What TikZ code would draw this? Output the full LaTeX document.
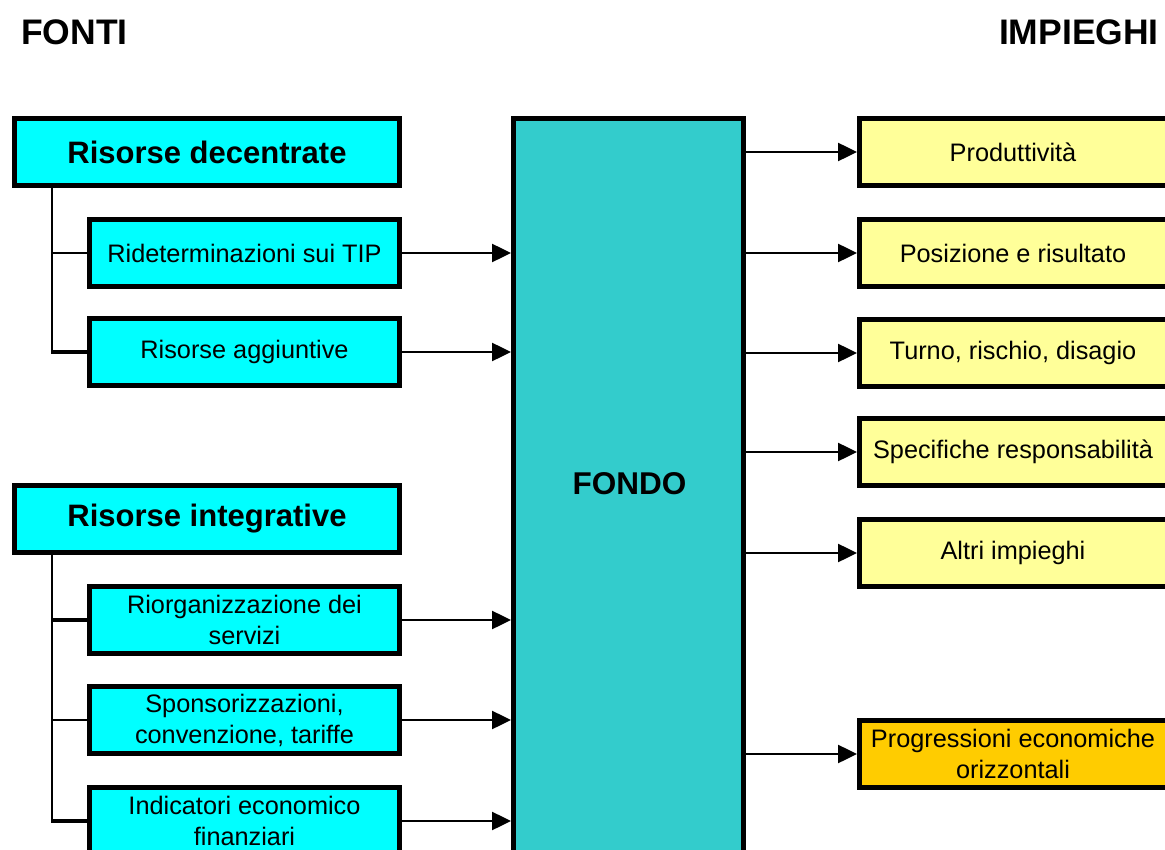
\documentclass[tikz,border=0pt]{standalone}
\usepackage{fontspec}
\setmainfont{Liberation Sans}
\usetikzlibrary{arrows.meta}
\definecolor{boxcyan}{HTML}{00FFFF}
\definecolor{fondocol}{HTML}{33CCCC}
\definecolor{boxyellow}{HTML}{FFFF99}
\definecolor{boxorange}{HTML}{FFCC00}
\tikzset{
  basebox/.style={draw=black, line width=5pt, inner sep=0pt, outer sep=0pt,
    minimum height=67pt, align=center, font=\fontsize{25.3}{31}\selectfont},
  srcbox/.style={basebox, fill=boxcyan, minimum width=310pt},
  headbox/.style={basebox, fill=boxcyan, minimum width=385pt, font=\fontsize{31}{34}\selectfont\bfseries},
  usebox/.style={basebox, fill=boxyellow, minimum width=312pt},
  title/.style={font=\fontsize{35.5}{38}\selectfont\bfseries, inner sep=0pt},
  thinline/.style={line width=2pt},
  thickline/.style={line width=4pt},
  arr/.style={line width=2.5pt, -{Triangle[length=19pt,width=18pt]}},
}
\begin{document}
\begin{tikzpicture}[x=1pt,y=-1pt]
\useasboundingbox (0,0) rectangle (1165,850);
\clip (0,0) rectangle (1165,850);
\fill[white] (0,0) rectangle (1165,850);

% titles
\node[title, anchor=west] (fonti) at (21,32) {FONTI};
\node[title, anchor=east] (impieghi) at (1159,32) {IMPIEGHI};

% FONDO
\node[draw=black, line width=5pt, fill=fondocol, minimum width=230pt, minimum height=760pt,
      inner sep=0pt, outer sep=0pt, anchor=north] (fondo) at (628.5,118.5) {};
\node[font=\fontsize{31.5}{34}\selectfont\bfseries] (fondotxt) at (629.5,484) {FONDO};

% left: sources
\node[headbox] (dec) at (207,152) {Risorse decentrate};
\node[srcbox] (rid) at (244.5,253) {Rideterminazioni sui TIP};
\node[srcbox] (agg) at (244.5,352) {Risorse aggiuntive};

\node[headbox] (int) at (207,519) {Risorse integrative};
\node[srcbox] (rio) at (244.5,620) {Riorganizzazione dei\\servizi};
\node[srcbox] (spo) at (244.5,720) {Sponsorizzazioni,\\convenzione, tariffe};
\node[srcbox] (ind) at (244.5,821) {Indicatori economico\\finanziari};

% tree connectors
\coordinate (dtop) at ([xshift=37.5pt]dec.south west);
\coordinate (itop) at ([xshift=37.5pt]int.south west);
\draw[thinline] (dtop) -- (dtop |- agg.west);
\draw[thinline] (dtop |- rid.west) -- (rid.west);
\draw[thickline] ([xshift=-1pt]dtop |- agg.west) -- (agg.west);
\draw[thinline] (itop) -- (itop |- ind.west);
\draw[thickline] ([xshift=-1pt]itop |- rio.west) -- (rio.west);
\draw[thinline] (itop |- spo.west) -- (spo.west);
\draw[thickline] ([xshift=-1pt]itop |- ind.west) -- (ind.west);

% arrows into fondo
\foreach \n in {rid,agg,rio,spo,ind}
  \draw[arr] (\n.east) -- ([xshift=-2.5pt]fondo.west |- \n.east);

% right: uses
\node[usebox, anchor=west] (pro) at (859.5,152) {\hspace*{-5pt}Produttività};
\node[usebox, anchor=west] (pos) at (859.5,253) {\hspace*{-5pt}Posizione e risultato};
\node[usebox, anchor=west] (tur) at (859.5,353) {\hspace*{-5pt}Turno, rischio, disagio};
\node[usebox, anchor=west] (spe) at (859.5,452) {\hspace*{-5pt}Specifiche responsabilità};
\node[usebox, anchor=west] (alt) at (859.5,553) {\hspace*{-5pt}Altri impieghi};
\node[usebox, anchor=west, fill=boxorange] (prg) at (859.5,754) {\hspace*{-5pt}Progressioni economiche\\\hspace*{-5pt}orizzontali};

\foreach \n in {pro,pos,tur,spe,alt,prg}
  \draw[arr] ([xshift=2.5pt]fondo.east |- \n.west) -- ([xshift=-2.5pt]\n.west);
\end{tikzpicture}
\end{document}
